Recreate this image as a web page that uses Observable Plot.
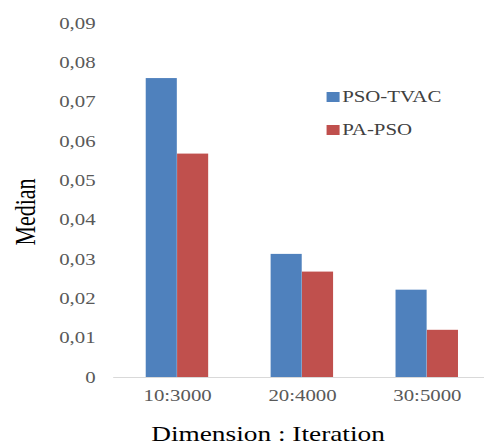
<!DOCTYPE html>
<html>
<head>
<meta charset="utf-8">
<script src="https://cdn.jsdelivr.net/npm/d3@7"></script>
<script src="https://cdn.jsdelivr.net/npm/@observablehq/plot@0.6"></script>
<style>
  html, body { margin: 0; padding: 0; background: #fff; }
  #wrap { position: relative; width: 372px; height: 445px; transform: scaleX(1.30108); transform-origin: 0 0; font-family: "Liberation Serif", "Times New Roman", serif; overflow: visible; }
  #wrap svg { position: absolute; left: 0; top: 0; overflow: visible; }
  .lg { position: absolute; left: 251px; font-size: 16px; line-height: 1; color: #404040; white-space: nowrap; }
  .lg span.sw { display: inline-block; width: 10px; height: 10px; margin-right: 2px; vertical-align: 0px; }
  #ytitle { position: absolute; left: 19.5px; top: 212px; transform: translate(-50%, -50%) rotate(-90deg); font-size: 22px; line-height: 1; color: #000; white-space: nowrap; }
  #xtitle { position: absolute; left: 206px; top: 423.5px; transform: translateX(-50%); font-size: 21px; line-height: 1; color: #000; white-space: nowrap; }
</style>
</head>
<body>
<div id="wrap"></div>
<script>
const categories = ["10:3000", "20:4000", "30:5000"];
const seriesNames = ["PSO-TVAC", "PA-PSO"];
const psoTvac = [0.0760, 0.0313, 0.0222];
const paPso = [0.0568, 0.0268, 0.0120];
const yTicks = [0, 0.01, 0.02, 0.03, 0.04, 0.05, 0.06, 0.07, 0.08, 0.09];
const colors = ["#4F81BD", "#C0504D"];

const blueData = categories.map((c, i) => ({category: c, value: psoTvac[i]}));
const redData = categories.map((c, i) => ({category: c, value: paPso[i]}));

const half = 24.1;

const chart = Plot.plot({
  width: 372,
  height: 445,
  marginLeft: 87,
  marginRight: 0,
  marginTop: 23,
  marginBottom: 68,
  style: {fontFamily: "'Liberation Serif', 'Times New Roman', serif", fontSize: "16px", background: "transparent", color: "#595959"},
  x: {domain: categories, range: [87, 376], paddingInner: 0.5, paddingOuter: 0.25, label: null},
  y: {domain: [0, 0.09], label: null},
  marks: [
    Plot.barY(blueData, {x: "category", y: "value", fill: colors[0], insetRight: half}),
    Plot.barY(redData, {x: "category", y: "value", fill: colors[1], insetLeft: half}),
    Plot.ruleY([0], {stroke: "#d9d9d9", strokeWidth: 1}),
    Plot.axisY(yTicks, {tickSize: 0, tickPadding: 14, label: null, fill: "#595959",
      tickFormat: d => d === 0 ? "0" : d.toFixed(2).replace(".", ",")}),
    Plot.axisX({tickSize: 0, tickPadding: 12, label: null, fill: "#595959"})
  ]
});

const wrap = document.getElementById("wrap");
wrap.appendChild(chart);

// legend
const legendTops = [89, 122];
seriesNames.forEach((name, i) => {
  const d = document.createElement("div");
  d.className = "lg";
  d.style.top = legendTops[i] + "px";
  d.innerHTML = `<span class="sw" style="background:${colors[i]}"></span>`;
  d.appendChild(document.createTextNode(name));
  wrap.appendChild(d);
});

const yt = document.createElement("div");
yt.id = "ytitle";
yt.textContent = "Median";
wrap.appendChild(yt);

const xt = document.createElement("div");
xt.id = "xtitle";
xt.textContent = "Dimension : Iteration";
wrap.appendChild(xt);
</script>
</body>
</html>
